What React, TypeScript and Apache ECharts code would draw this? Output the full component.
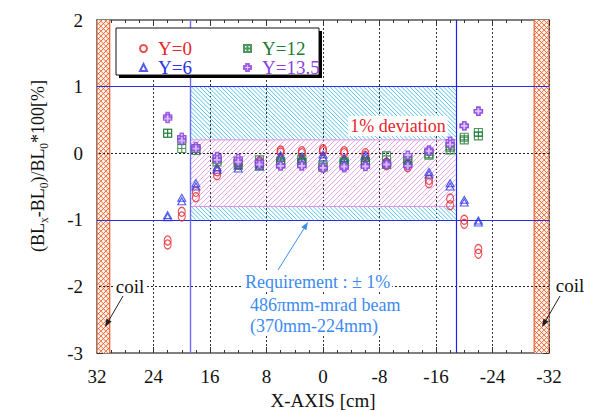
import React, { useEffect, useRef } from 'react';
import * as echarts from 'echarts';

// ---- data ----
const X_POS = [22, 20, 18, 15, 12, 9, 6, 3, 0, -3, -6, -9, -12, -15, -18, -20, -22];
// two measurements per position (markers appear doubled)
const Y0_A = [-1.31, -0.88, -0.58, -0.27, -0.13, -0.12, 0.04, 0.03, 0.06, 0.03, 0.0, -0.14, -0.17, -0.40, -0.68, -1.00, -1.44];
const Y0_B = [-1.37, -0.95, -0.66, -0.33, -0.17, -0.15, 0.01, 0.0, 0.03, 0.0, -0.04, -0.18, -0.21, -0.45, -0.78, -1.06, -1.51];
const Y6_A = [-0.93, -0.67, -0.45, -0.21, -0.19, -0.16, -0.03, -0.05, -0.02, -0.07, -0.03, -0.12, -0.12, -0.28, -0.45, -0.70, -1.01];
const Y6_B = [-0.96, -0.72, -0.50, -0.25, -0.23, -0.20, -0.07, -0.08, -0.06, -0.10, -0.07, -0.15, -0.15, -0.32, -0.50, -0.74, -1.04];
const Y12_A = [0.30, 0.20, 0.07, -0.09, -0.13, -0.10, -0.12, -0.09, -0.19, -0.13, -0.16, -0.04, -0.10, -0.03, 0.05, 0.20, 0.26];
const Y12_B = [0.30, 0.07, 0.04, -0.13, -0.17, -0.19, -0.16, -0.14, -0.21, -0.15, -0.12, -0.17, -0.13, -0.01, 0.09, 0.24, 0.31];
const Y135_A = [0.55, 0.24, 0.10, -0.05, -0.08, -0.13, -0.19, -0.19, -0.22, -0.22, -0.19, -0.15, -0.03, 0.05, 0.18, 0.41, 0.63];
const Y135_B = [0.52, 0.19, 0.07, -0.10, -0.13, -0.17, -0.19, -0.19, -0.22, -0.20, -0.20, -0.17, -0.19, 0.03, 0.13, 0.41, 0.63];

const SERIES_NAMES = ['Y=0', 'Y=6', 'Y=12', 'Y=13.5'];
const X_MIN = -32, X_MAX = 32, X_STEP = 8;
const Y_MIN = -3, Y_MAX = 2, Y_STEP = 1;
const TOLERANCE = [-1, 1];
const BEAM_EDGE = [18.8, -18.8];
const DEVIATION_BAND = [-0.8, 0.2];
const COIL_LEFT = [32, 30.2];
const COIL_RIGHT = [-29.9, -32];
const GUIDE_Y = [0, -2];

const FONT = 'Liberation Serif';
const RED = '#e3262b';
const BLUE = '#2a32e8';
const GREEN = '#1f7a35';
const PURPLE = '#8b3fe0';
const REQ_BLUE = '#3d8bef';

function hatchSegments(l: number, t: number, r: number, b: number, step: number, dir: 'up' | 'down') {
  const segs: number[][] = [];
  if (dir === 'up') {
    for (let c = l + t; c <= r + b; c += step) {
      const xa = Math.max(l, c - b), xb = Math.min(r, c - t);
      if (xb > xa) segs.push([xa, c - xa, xb, c - xb]);
    }
  } else {
    for (let c = t - r; c <= b - l; c += step) {
      const xa = Math.max(l, t - c), xb = Math.min(r, b - c);
      if (xb > xa) segs.push([xa, xa + c, xb, xb + c]);
    }
  }
  return segs;
}

function renderHatch(params: any, api: any) {
  const p1 = api.coord([api.value(0), api.value(2)]);
  const p2 = api.coord([api.value(1), api.value(3)]);
  const l = Math.min(p1[0], p2[0]), r = Math.max(p1[0], p2[0]);
  const t = Math.min(p1[1], p2[1]), b = Math.max(p1[1], p2[1]);
  const kind = api.value(4);
  const children: any[] = [];
  const addLines = (segs: number[][], color: string, w: number) => {
    segs.forEach((s) =>
      children.push({ type: 'line', shape: { x1: s[0], y1: s[1], x2: s[2], y2: s[3] }, style: { stroke: color, lineWidth: w } })
    );
  };
  if (kind === 0) {
    addLines(hatchSegments(l, t, r, b, 4.2, 'down'), '#55c3ea', 1);
  } else if (kind === 1) {
    addLines(hatchSegments(l, t, r, b, 5, 'up'), '#e2a6e6', 1);
    children.push({ type: 'line', shape: { x1: l, y1: t, x2: r, y2: t }, style: { stroke: '#e08fe4', lineWidth: 1 } });
    children.push({ type: 'line', shape: { x1: l, y1: b, x2: r, y2: b }, style: { stroke: '#e08fe4', lineWidth: 1 } });
  } else {
    children.push({ type: 'rect', shape: { x: l, y: t, width: r - l, height: b - t }, style: { fill: '#fff3ec', stroke: 'none' } });
    addLines(hatchSegments(l, t, r, b, 5, 'up'), '#f0602c', 0.9);
    addLines(hatchSegments(l, t, r, b, 5, 'down'), '#f0602c', 0.9);
    children.push({ type: 'line', shape: { x1: l, y1: t, x2: l, y2: b }, style: { stroke: '#f0602c', lineWidth: 1.2 } });
    children.push({ type: 'line', shape: { x1: r, y1: t, x2: r, y2: b }, style: { stroke: '#f0602c', lineWidth: 1.2 } });
  }
  return { type: 'group', children };
}

function arrow(x1: number, y1: number, x2: number, y2: number, color: string) {
  const dx = x2 - x1, dy = y2 - y1;
  const len = Math.sqrt(dx * dx + dy * dy);
  const ux = dx / len, uy = dy / len;
  const hl = 8, hw = 3;
  const bx = x2 - ux * hl, by = y2 - uy * hl;
  return [
    { type: 'line', z: 120, shape: { x1, y1, x2: bx, y2: by }, style: { stroke: color, lineWidth: 1 } },
    {
      type: 'polygon', z: 120,
      shape: { points: [[x2, y2], [bx - uy * hw, by + ux * hw], [bx + uy * hw, by - ux * hw]] },
      style: { fill: color },
    },
  ];
}

const pairs = (a: number[], b: number[]) => X_POS.flatMap((x, i) => [[x, a[i]], [x, b[i]]]);

export default function App() {
  const ref = useRef<HTMLDivElement>(null);
  useEffect(() => {
    if (!ref.current) return;
    const chart = echarts.init(ref.current, undefined, { renderer: 'svg' });
    const regions = [
      [BEAM_EDGE[0], BEAM_EDGE[1], DEVIATION_BAND[1], TOLERANCE[1], 0],
      [BEAM_EDGE[0], BEAM_EDGE[1], TOLERANCE[0], DEVIATION_BAND[0], 0],
      [BEAM_EDGE[0], BEAM_EDGE[1], DEVIATION_BAND[0], DEVIATION_BAND[1], 1],
      [COIL_LEFT[0], COIL_LEFT[1], Y_MIN, Y_MAX, 2],
      [COIL_RIGHT[0], COIL_RIGHT[1], Y_MIN, Y_MAX, 2],
    ];
    const axisLine = { show: true, onZero: false, lineStyle: { color: '#555', width: 1.5 } };
    const tick = { show: true, inside: true, length: 6, lineStyle: { color: '#333' } };
    const xCommon = {
      type: 'value', min: X_MIN, max: X_MAX, interval: X_STEP, inverse: true,
      axisLine, axisTick: tick,
      minorTick: { show: true, splitNumber: 4, length: 3, lineStyle: { color: '#333' } },
    };
    const yCommon = {
      type: 'value', min: Y_MIN, max: Y_MAX, interval: Y_STEP,
      axisLine, axisTick: tick,
      minorTick: { show: true, splitNumber: 4, length: 3, lineStyle: { color: '#333' } },
      splitLine: { show: false },
    };
    const legendText = (name: string, color: string) => ({ name, textStyle: { color } });
    const option: any = {
      animation: false,
      backgroundColor: '#fff',
      textStyle: { fontFamily: FONT },
      grid: { left: 97, right: 40, top: 20, bottom: 59, outerBoundsMode: 'none', containLabel: false },
      xAxis: [
        {
          ...xCommon, position: 'bottom',
          axisLabel: { show: true, margin: 14, color: '#111', fontSize: 19, fontFamily: FONT },
          splitLine: { show: true, lineStyle: { color: '#333', type: [2, 2], width: 1 } },
          name: 'X-AXIS [cm]', nameLocation: 'middle', nameGap: 37,
          nameTextStyle: { color: '#111', fontSize: 19, fontFamily: FONT },
        },
        { ...xCommon, position: 'top', axisLabel: { show: false }, splitLine: { show: false } },
      ],
      yAxis: [
        { ...yCommon, position: 'left', axisLabel: { show: true, margin: 14, color: '#111', fontSize: 19, fontFamily: FONT } },
        { ...yCommon, position: 'right', axisLabel: { show: false } },
      ],
      legend: [
        {
          orient: 'vertical', left: 134, top: 34, itemWidth: 7, itemHeight: 7, itemGap: 0,
          textStyle: { fontSize: 19, lineHeight: 16, fontFamily: FONT, padding: [0, 0, 0, 6] }, z: 200, selectedMode: false,
          data: [legendText('Y=0', RED), legendText('Y=6', BLUE)],
        },
        {
          orient: 'vertical', left: 238, top: 34, itemWidth: 7, itemHeight: 7, itemGap: 0,
          textStyle: { fontSize: 19, lineHeight: 16, fontFamily: FONT, padding: [0, 0, 0, 6] }, z: 200, selectedMode: false,
          data: [legendText('Y=12', GREEN), legendText('Y=13.5', PURPLE)],
        },
      ],
      series: [
        {
          type: 'custom', name: 'bands', renderItem: renderHatch, data: regions, z: 1, silent: true, clip: true,
          markLine: {
            silent: true, symbol: 'none', label: { show: false },
            data: [
              ...GUIDE_Y.map((v) => ({ yAxis: v, lineStyle: { color: '#222', type: [2, 2], width: 1 } })),
              ...TOLERANCE.map((v) => ({ yAxis: v, lineStyle: { color: '#2830e6', type: 'solid', width: 1.2 } })),
              { xAxis: BEAM_EDGE[0], lineStyle: { color: '#6b6df3', type: 'solid', width: 1.4 } },
              { xAxis: BEAM_EDGE[1], lineStyle: { color: '#1c22e6', type: 'solid', width: 1.2 } },
            ],
          },
        },
        {
          type: 'scatter', name: SERIES_NAMES[0], data: pairs(Y0_A, Y0_B), z: 5,
          symbol: 'circle', symbolSize: [7, 9],
          itemStyle: { color: 'rgba(255,255,255,0)', borderColor: RED, borderWidth: 1.2 },
        },
        {
          type: 'scatter', name: SERIES_NAMES[1], data: pairs(Y6_A, Y6_B), z: 5,
          symbol: 'triangle', symbolSize: [8, 7],
          itemStyle: { color: 'rgba(255,255,255,0)', borderColor: BLUE, borderWidth: 1.1 },
        },
        {
          type: 'scatter', name: SERIES_NAMES[2], data: pairs(Y12_A, Y12_B), z: 5,
          symbol: 'path://M0,0H10V10H0Z M5,0V10 M0,5H10', symbolSize: 8,
          itemStyle: { color: 'rgba(255,255,255,0)', borderColor: GREEN, borderWidth: 1.1 },
        },
        {
          type: 'scatter', name: SERIES_NAMES[3], data: pairs(Y135_A, Y135_B), z: 5,
          symbol: 'path://M3,0H7V3H10V7H7V10H3V7H0V3H3Z', symbolSize: 8,
          itemStyle: { color: '#d9c6fb', borderColor: PURPLE, borderWidth: 1.4 },
        },
      ],
      graphic: [
        { type: 'rect', z: 150, shape: { x: 119, y: 31, width: 203, height: 47 }, style: { fill: '#000' } },
        { type: 'rect', z: 151, shape: { x: 116, y: 28, width: 203, height: 47 }, style: { fill: '#fff', stroke: '#111', lineWidth: 1 } },
        {
          type: 'text', z: 120, x: 398, y: 126,
          style: { text: '1% deviation', fill: RED, fontSize: 18, fontFamily: FONT, align: 'center', verticalAlign: 'middle', backgroundColor: '#fff', padding: [1, 2] },
        },
        {
          type: 'text', z: 120, x: 243, y: 282,
          style: { text: 'Requirement : ± 1%', fill: REQ_BLUE, fontSize: 18, fontFamily: FONT, align: 'left', verticalAlign: 'middle', backgroundColor: '#fff', padding: [1, 2] },
        },
        {
          type: 'text', z: 120, x: 248, y: 305,
          style: { text: '486πmm-mrad beam', fill: REQ_BLUE, fontSize: 18, fontFamily: FONT, align: 'left', verticalAlign: 'middle', backgroundColor: '#fff', padding: [1, 2] },
        },
        {
          type: 'text', z: 120, x: 248, y: 326,
          style: { text: '(370mm-224mm)', fill: REQ_BLUE, fontSize: 18, fontFamily: FONT, align: 'left', verticalAlign: 'middle', backgroundColor: '#fff', padding: [1, 2] },
        },
        ...arrow(278, 270, 308, 222, REQ_BLUE),
        {
          type: 'text', z: 120, x: 130, y: 286,
          style: { text: 'coil', fill: '#111', fontSize: 19, fontFamily: FONT, align: 'center', verticalAlign: 'middle', backgroundColor: '#fff', padding: [1, 2] },
        },
        ...arrow(123, 296, 105, 327, '#222'),
        {
          type: 'text', z: 120, x: 570, y: 285,
          style: { text: 'coil', fill: '#111', fontSize: 19, fontFamily: FONT, align: 'center', verticalAlign: 'middle' },
        },
        ...arrow(560, 296, 542, 327, '#222'),
        {
          type: 'text', z: 120, x: 38, y: 166, rotation: Math.PI / 2,
          style: {
            text: '{n|(BL}{s|x}{n|-BL}{s|0}{n|)/BL}{s|0}{n|*100[%]}',
            align: 'center', verticalAlign: 'middle',
            rich: {
              n: { fill: '#111', fontSize: 18, fontFamily: FONT, lineHeight: 23, verticalAlign: 'middle' },
              s: { fill: '#111', fontSize: 11.5, fontFamily: FONT, lineHeight: 23, verticalAlign: 'bottom' },
            },
          },
        },
      ],
    };
    chart.setOption(option);
    return () => chart.dispose();
  }, []);
  return <div ref={ref} style={{ width: 589, height: 412, position: 'absolute', left: 0, top: 0 }} />;
}
